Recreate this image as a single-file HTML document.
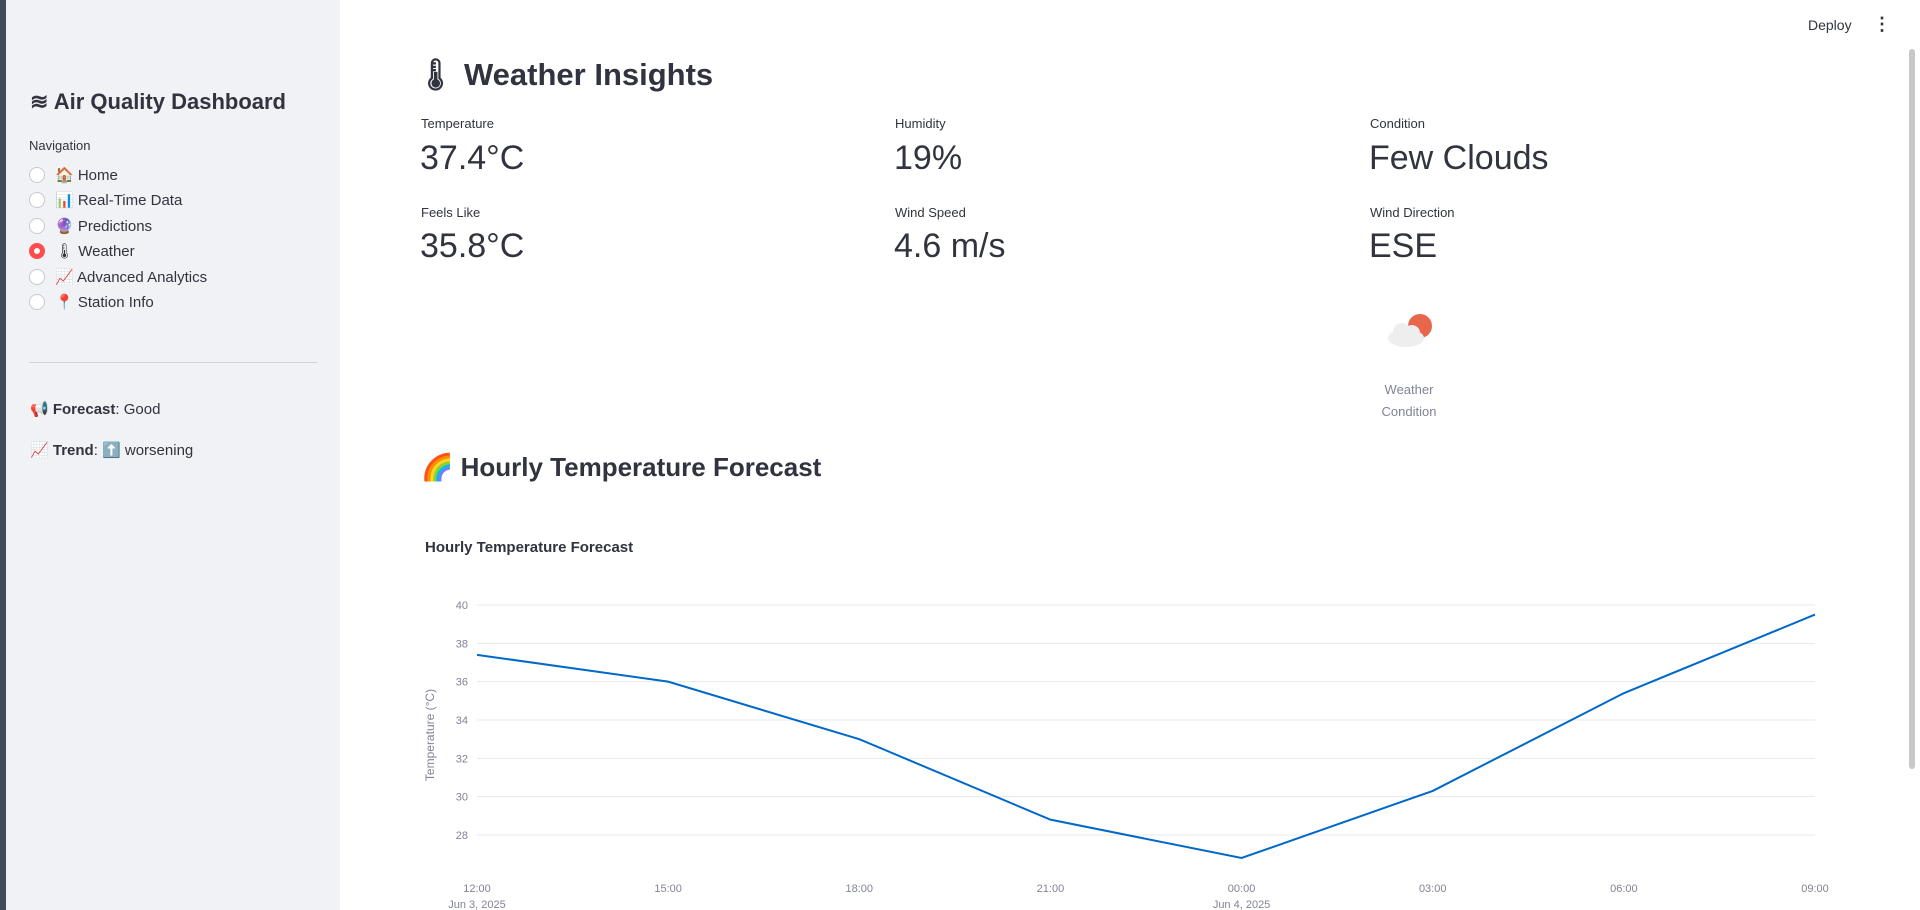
<!DOCTYPE html>
<html><head><meta charset="utf-8"><style>
*{box-sizing:border-box;margin:0;padding:0}
body{width:1920px;height:910px;overflow:hidden;background:#fff;font-family:"Liberation Sans",sans-serif;color:#31333f;position:relative}
.abs{position:absolute;white-space:nowrap}
#strip{left:0;top:0;width:6px;height:910px;background:#3f4b5b}
#sidebar{left:6px;top:0;width:334px;height:910px;background:#f0f2f6}
.radio{width:16px;height:16px;border-radius:50%;border:1px solid #c7c9cf;background:#fff}
.radio.on{border:5px solid #ff4b4b}
.nav{font-size:15px}
.mlabel{font-size:13px;color:#31333f}
.mval{font-size:34px;color:#31333f}
</style></head><body>
<div class="abs" id="strip"></div>
<div class="abs" id="sidebar"></div>
<div class="abs" style="left:30px;top:89px;font-size:22px;font-weight:bold">≋ Air Quality Dashboard</div>
<div class="abs" style="left:29px;top:138px;font-size:13px">Navigation</div>
<div>
<div class="abs radio" style="left:29px;top:167px"></div><div class="abs nav" style="left:55px;top:166px">🏠 Home</div>
<div class="abs radio" style="left:29px;top:192px"></div><div class="abs nav" style="left:55px;top:191px">📊 Real-Time Data</div>
<div class="abs radio" style="left:29px;top:218px"></div><div class="abs nav" style="left:55px;top:217px">🔮 Predictions</div>
<div class="abs radio on" style="left:29px;top:243px"></div><div class="abs nav" style="left:55px;top:242px">🌡 Weather</div>
<div class="abs radio" style="left:29px;top:269px"></div><div class="abs nav" style="left:55px;top:268px">📈 Advanced Analytics</div>
<div class="abs radio" style="left:29px;top:294px"></div><div class="abs nav" style="left:55px;top:293px">📍 Station Info</div>
</div>
<div class="abs" style="left:29px;top:362px;width:288px;height:1px;background:#d0d2d6"></div>
<div class="abs nav" style="left:30px;top:400px;font-size:15px">📢 <b>Forecast</b>: Good</div>
<div class="abs nav" style="left:30px;top:441px;font-size:15px">📈 <b>Trend</b>: ⬆️ worsening</div>

<div class="abs" style="left:1808px;top:17px;font-size:14px">Deploy</div>
<div class="abs" style="left:1873px;top:14px;font-size:18px;font-weight:bold">⋮</div>
<div class="abs" style="left:1909px;top:49px;width:6px;height:720px;background:#c8c8c8;border-radius:3px"></div>

<div class="abs" style="left:416px;top:56px;font-size:31px;font-weight:bold">🌡 Weather Insights</div>

<div class="abs mlabel" style="left:421px;top:116px">Temperature</div>
<div class="abs mval" style="left:420px;top:139px">37.4°C</div>
<div class="abs mlabel" style="left:895px;top:116px">Humidity</div>
<div class="abs mval" style="left:894px;top:139px">19%</div>
<div class="abs mlabel" style="left:1370px;top:116px">Condition</div>
<div class="abs mval" style="left:1369px;top:139px">Few Clouds</div>
<div class="abs mlabel" style="left:421px;top:205px">Feels Like</div>
<div class="abs mval" style="left:420px;top:227px">35.8°C</div>
<div class="abs mlabel" style="left:895px;top:205px">Wind Speed</div>
<div class="abs mval" style="left:894px;top:227px">4.6 m/s</div>
<div class="abs mlabel" style="left:1370px;top:205px">Wind Direction</div>
<div class="abs mval" style="left:1369px;top:227px">ESE</div>

<svg class="abs" style="left:1382px;top:308px" width="56" height="46" viewBox="0 0 56 46">
<circle cx="38" cy="18" r="12" fill="#e8664a"/>
<ellipse cx="24" cy="30" rx="18" ry="9" fill="#eeeeee"/><circle cx="20" cy="24" r="9" fill="#eeeeee"/><circle cx="30" cy="25" r="8" fill="#eeeeee"/>
</svg>
<div class="abs" style="left:1359px;top:379px;width:100px;text-align:center;font-size:13px;color:#808495;line-height:22px;white-space:normal">Weather<br>Condition</div>

<div class="abs" style="left:421px;top:452px;font-size:26px;font-weight:bold">🌈 Hourly Temperature Forecast</div>

<svg class="abs" id="chart" style="left:0;top:0" width="1920" height="910"></svg>
<script>
const times=["12:00","15:00","18:00","21:00","00:00","03:00","06:00","09:00"];
const dates=["Jun 3, 2025","","","","Jun 4, 2025","","",""];
const temps=[37.4,36.0,33.0,28.8,26.8,30.3,35.4,39.5];
const yTicks=[28,30,32,34,36,38,40];
const NS="http://www.w3.org/2000/svg";
const svg=document.getElementById('chart');
const x0=477,x1=1815,y40=605,y28=835;
function xs(i){return x0+(x1-x0)*i/(times.length-1);}
function ys(v){return y28+(v-28)*(y40-y28)/12;}
function mk(t,a,txt){const e=document.createElementNS(NS,t);for(const k in a)e.setAttribute(k,a[k]);if(txt!==undefined)e.textContent=txt;svg.appendChild(e);return e;}
let e=mk('text',{x:425,y:552,'font-size':15,'font-weight':'bold',fill:'#31333f','font-family':'Liberation Sans'},'Hourly Temperature Forecast');


yTicks.forEach(v=>{
 let g=mk('line',{x1:x0,x2:x1,y1:ys(v),y2:ys(v),stroke:'#e6e9ef','stroke-width':1});
 
 
 let t=mk('text',{x:468,y:ys(v)+4,'text-anchor':'end','font-size':11,fill:'#808495','font-family':'Liberation Sans'},String(v));
 
 
});
let yt=mk('text',{x:0,y:0,transform:'translate(434,735) rotate(-90)','text-anchor':'middle','font-size':12,fill:'#808495','font-family':'Liberation Sans'},'Temperature (°C)');


times.forEach((tm,i)=>{
 let t=mk('text',{x:xs(i),y:892,'text-anchor':'middle','font-size':11,fill:'#808495','font-family':'Liberation Sans'},tm);
 
 
 if(dates[i]){let d=mk('text',{x:xs(i),y:908,'text-anchor':'middle','font-size':11,fill:'#808495','font-family':'Liberation Sans'},dates[i]);
 
 }
});
let p=mk('polyline',{points:temps.map((v,i)=>xs(i)+','+ys(v)).join(' '),fill:'none',stroke:'#0068c9','stroke-width':2});


</script>
</body></html>
